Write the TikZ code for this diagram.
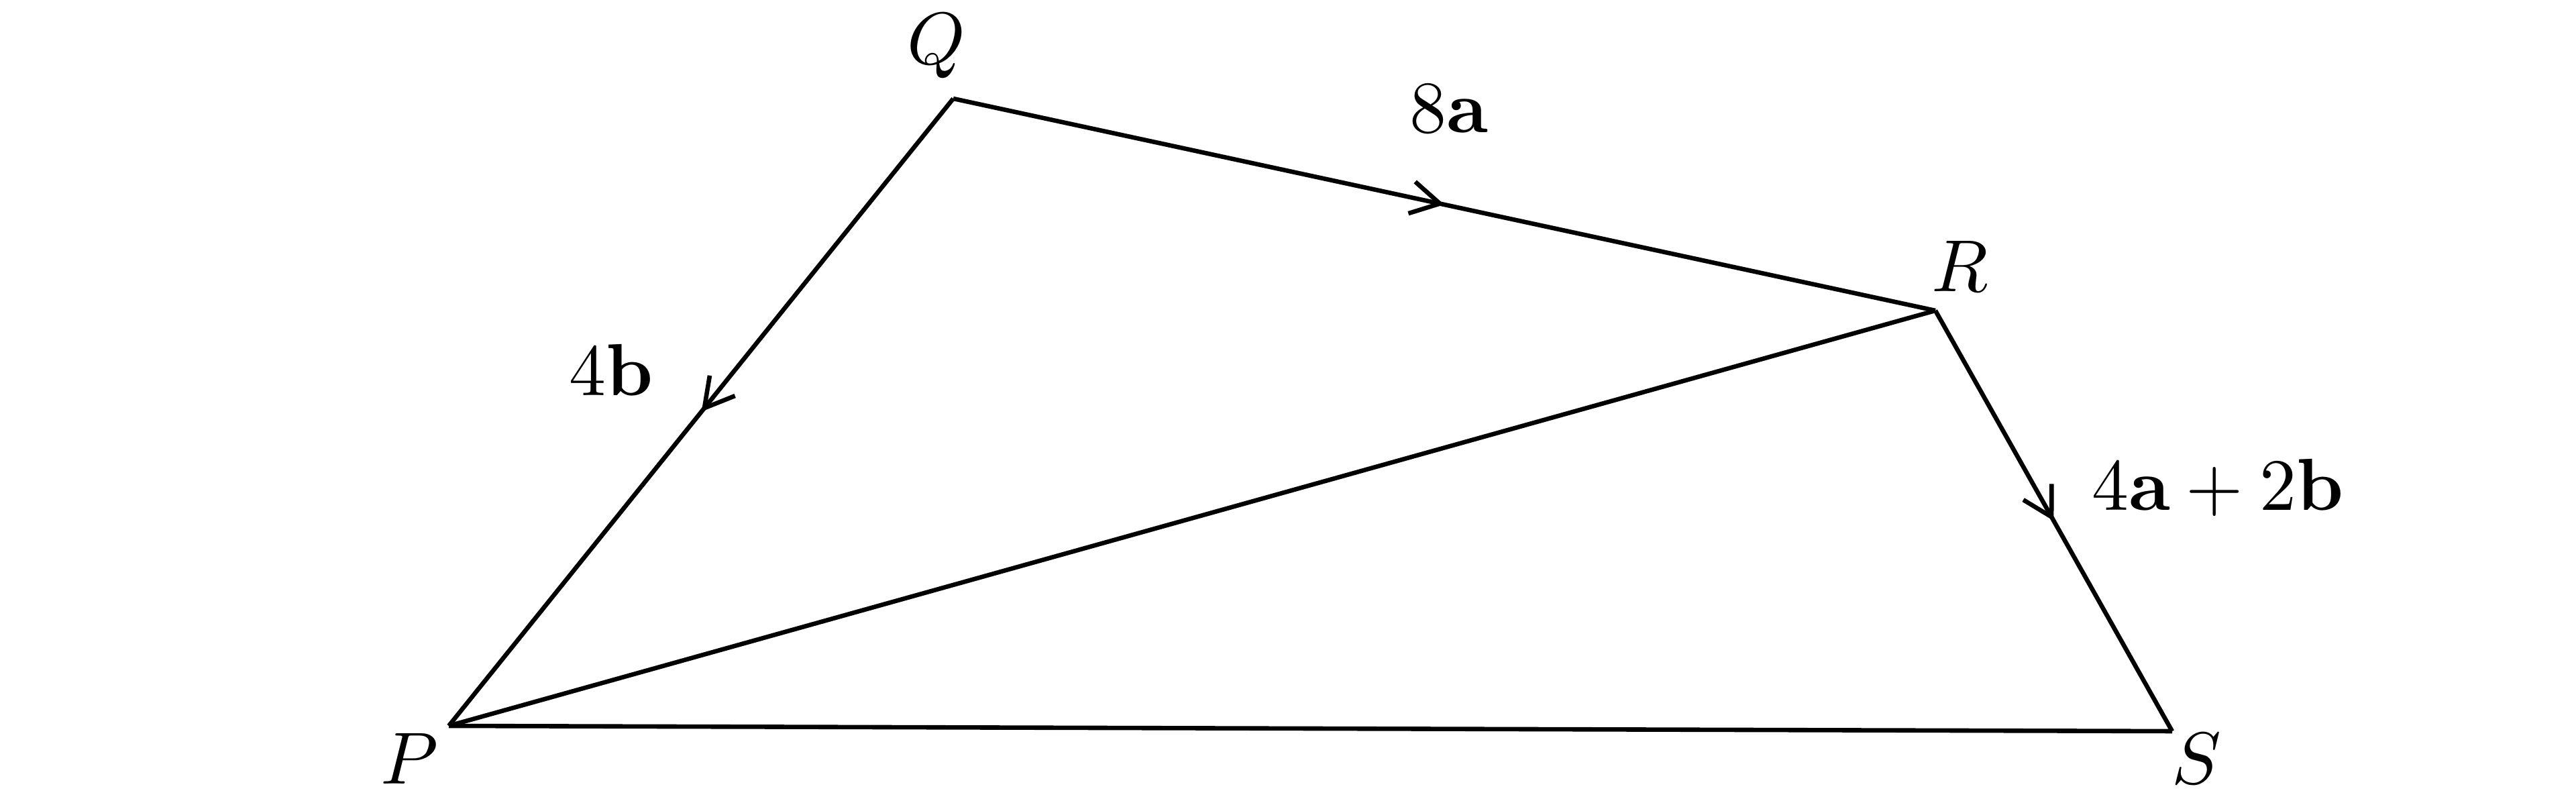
\documentclass[tikz,border=0pt]{standalone}
\usepackage{amsmath,amssymb}
\usetikzlibrary{calc, arrows.meta, decorations.markings}

\tikzset{
    midarrow/.style={postaction={decorate}, decoration={markings,
        mark=at position 0.5 with {\arrow{Straight Barb[length=3.9pt,width=4.4pt,line width=0.6pt]}}}}
}

\begin{document}
\begin{tikzpicture}[x=0.32cm, y=0.32cm, line width=0.6pt]
        \useasboundingbox (0,0) rectangle (38.4,11.97);

        \coordinate (P) at (6.69,1.15);
        \coordinate (Q) at (14.21,10.50);
        \coordinate (R) at (28.85,7.34);
        \coordinate (S) at (32.38,1.07);

        \draw[midarrow] (Q) -- (R);
        \draw[midarrow] (Q) -- (P);
        \draw[midarrow] (R) -- (S);
        \draw (P) -- (R);
        \draw (P) -- (S);

        \node at (6.10,0.66) {$P$};
        \node at (13.96,11.28) {$Q$};
        \node at (29.22,8.00) {$R$};
        \node at (32.74,0.66) {$S$};

        \node at (21.60,10.35) {$8\mathbf{a}$};
        \node at (9.11,6.46) {$4\mathbf{b}$};
        \node at (33.06,4.70) {$4\mathbf{a} + 2\mathbf{b}$};
    \end{tikzpicture}
\end{document}
